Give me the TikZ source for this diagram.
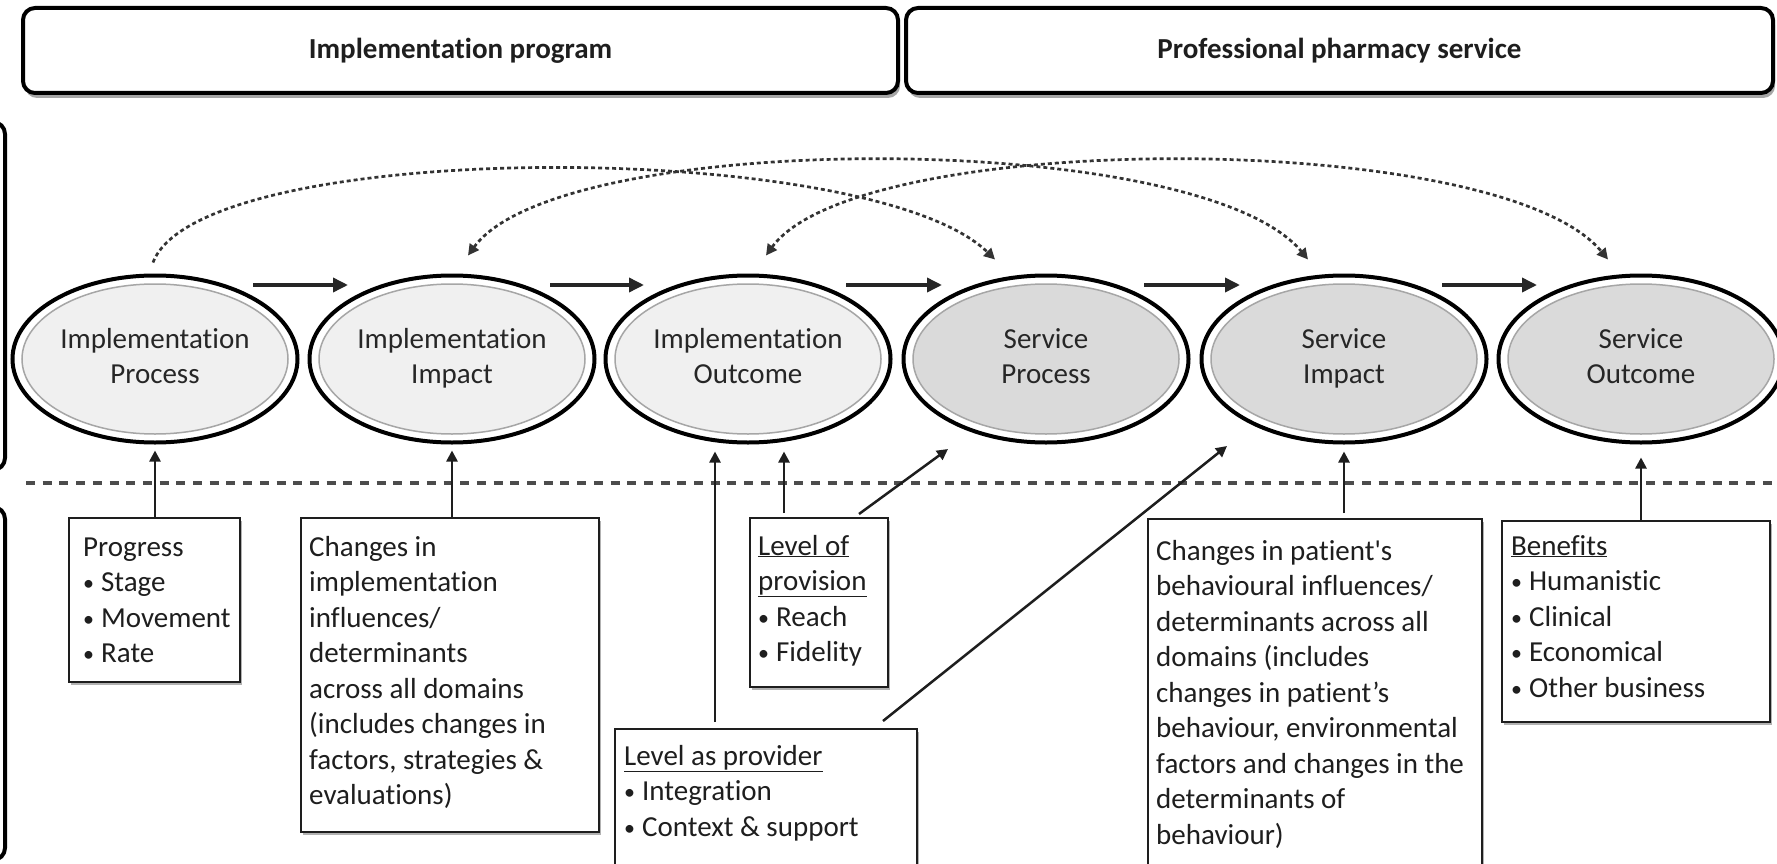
\documentclass[tikz,border=0pt]{standalone}
\usepackage{fontspec}
\setmainfont{Carlito}[Ligatures=NoCommon]
\usetikzlibrary{shapes.geometric, arrows.meta, calc, shadows}
\definecolor{implfill}{HTML}{F0F0F0}
\definecolor{servfill}{HTML}{DADADA}
\definecolor{ink}{HTML}{1E1E1E}
\newcommand\bul{{\fontsize{22}{22}\selectfont\raisebox{1pt}{•}}\hspace{7pt}}
\begin{document}
\begin{tikzpicture}[x=1pt, y=-1pt,
  every node/.style={font=\fontsize{29}{35.5}\selectfont, text=ink},
  header/.style={draw=black, line width=4pt, rounded corners=12pt, fill=white,
    minimum height=85pt, inner sep=0pt, outer sep=0pt, anchor=north west,
    font=\fontsize{29}{35.5}\selectfont\bfseries,
    drop shadow={shadow xshift=2pt, shadow yshift=-5pt, opacity=.35, fill=black}},
  bracket/.style={draw=black, line width=4pt, rounded corners=12pt},
  ell/.style={ellipse, draw=black, line width=4pt, fill=white,
    minimum width=285pt, minimum height=167pt, inner sep=0pt, align=center,
    text=black!85,
    path picture={\draw[line width=1.5pt, draw=gray!70, fill=#1]
      (path picture bounding box.center) ellipse [x radius=133pt, y radius=75pt];}},
  tbox/.style={draw=ink, line width=2.5pt, fill=white, inner sep=0pt, outer sep=0pt,
    anchor=north west,
    drop shadow={shadow xshift=2pt, shadow yshift=-3pt, opacity=.3, fill=black}},
  btext/.style={anchor=north west, inner sep=0pt, align=left},
  harrow/.style={line width=3.5pt, draw=black!85, -{Triangle[length=15pt,width=14pt]}},
  varrow/.style={line width=2.5pt, draw=ink, -{Triangle[length=11pt,width=11pt]}},
  darc/.style={line width=2.7pt, draw=black!80, dash pattern=on 4pt off 3pt},
  sep/.style={line width=3.5pt, draw=black!70, dash pattern=on 9pt off 7.7pt},
  arctip/.tip={Triangle[length=11pt,width=11pt]}
]
\useasboundingbox (0,0) rectangle (1777,864);
\clip (0,0) rectangle (1777,864);

% headers
\node[header, minimum width=875pt] (hImpl) at (23,8) {Implementation program};
\node[header, minimum width=867pt] (hServ) at (906,8) {Professional pharmacy service};

% left brackets
\draw[bracket] (-100,122) rectangle (5,470);
\draw[bracket] (-100,507) rectangle (5,860);

% separator
\coordinate (sepL) at (26,483);
\coordinate (sepR) at (1790,483);
\draw[sep] (sepL) -- (sepR);

% ellipses
\node[ell=implfill] (e1) at (155,359) {\strut Implementation\\\strut Process};
\node[ell=implfill] (e2) at (452,359) {\strut Implementation\\\strut Impact};
\node[ell=implfill] (e3) at (748,359) {\strut Implementation\\\strut Outcome};
\node[ell=servfill] (e4) at (1046,359) {\strut Service\\\strut Process};
\node[ell=servfill] (e5) at (1344,359) {\strut Service\\\strut Impact};
\node[ell=servfill] (e6) at (1641,359) {\strut Service\\\strut Outcome};

% dashed arcs
\draw[darc, -{arctip}] ($(e1.north)+(-2,-11)$) .. controls ($(e1.north)+(45,-136)$) and ($(e4.north)+(-176,-136)$) .. ($(e4.north)+(-51,-14)$);
\draw[darc, {arctip}-{arctip}] ($(e2.north)+(16,-18)$) .. controls ($(e2.north)+(108,-145)$) and ($(e5.north)+(-144,-145)$) .. ($(e5.north)+(-36,-14)$);
\draw[darc, {arctip}-{arctip}] ($(e3.north)+(18,-18)$) .. controls ($(e3.north)+(110,-145)$) and ($(e6.north)+(-141,-145)$) .. ($(e6.north)+(-33,-14)$);

% horizontal arrows
\draw[harrow] ($(e1.center)+(98,-74)$) -- ($(e2.center)+(-104,-74)$);
\draw[harrow] ($(e2.center)+(98,-74)$) -- ($(e3.center)+(-104,-74)$);
\draw[harrow] ($(e3.center)+(98,-74)$) -- ($(e4.center)+(-104,-74)$);
\draw[harrow] ($(e4.center)+(98,-74)$) -- ($(e5.center)+(-104,-74)$);
\draw[harrow] ($(e5.center)+(98,-74)$) -- ($(e6.center)+(-104,-74)$);

% boxes
\node[tbox, minimum width=171pt, minimum height=164pt] (progbox) at (69,518) {};
\node[tbox, minimum width=298pt, minimum height=314pt] (chimpl) at (301,518) {};
\node[tbox, minimum width=138pt, minimum height=169pt] (lprov) at (750,518) {};
\node[tbox, minimum width=302pt, minimum height=200pt] (lprov2) at (615,729) {};
\node[tbox, minimum width=334pt, minimum height=400pt] (chpat) at (1148,519) {};
\node[tbox, minimum width=268pt, minimum height=201pt] (benef) at (1502,521) {};

% texts
\node[btext] (progtext) at ($(progbox.north west)+(14,13)$)
  {\strut Progress\\\bul Stage\\\bul Movement\\\bul Rate};
\node[btext] (chimpltext) at ($(chimpl.north west)+(8,13)$)
  {\strut Changes in\\implementation\\influences/\\determinants\\across all domains\\(includes changes in\\factors, strategies \&\\evaluations)};
\node[btext] (lprovtext) at ($(lprov.north west)+(8,12)$)
  {\strut\underline{Level of}\\\underline{provision}\\\bul Reach\\\bul Fidelity};
\node[btext] (lprov2text) at ($(lprov2.north west)+(9,11)$)
  {\strut\underline{Level as provider}\\\bul Integration\\\bul Context \& support};
\node[btext] (chpattext) at ($(chpat.north west)+(8,16)$)
  {\strut Changes in patient\textquotesingle s\\behavioural influences/\\determinants across all\\domains (includes\\changes in patient’s\\behaviour, environmental\\factors and changes in the\\determinants of\\behaviour)};
\node[btext] (beneftext) at ($(benef.north west)+(9,9)$)
  {\strut\underline{Benefits}\\\bul Humanistic\\\bul Clinical\\\bul Economical\\\bul Other business};

% vertical arrows
\draw[varrow] (progbox.north -| e1.south) -- ($(e1.south)+(0,6)$);
\draw[varrow] (chimpl.north -| e2.south) -- ($(e2.south)+(0,6)$);
\coordinate (t3a) at ($(e3.south)+(-33,7)$);
\coordinate (t3b) at ($(e3.south)+(36,7)$);
\draw[varrow] ($(t3a |- lprov2.north)+(0,-7)$) -- (t3a);
\draw[varrow] ($(t3b |- lprov.north)+(0,-5)$) -- (t3b);
\draw[varrow] ($(chpat.north -| e5.south)+(0,-6)$) -- ($(e5.south)+(0,7)$);
\draw[varrow] (benef.north -| e6.south) -- ($(e6.south)+(0,13)$);

% diagonal arrows
\draw[varrow] ($(lprov.north east)+(-29,-4)$) -- ($(e4.center)+(-98,90)$);
\draw[varrow] ($(lprov2.north east)+(-34,-8)$) -- ($(e5.center)+(-117,87)$);
\end{tikzpicture}
\end{document}
